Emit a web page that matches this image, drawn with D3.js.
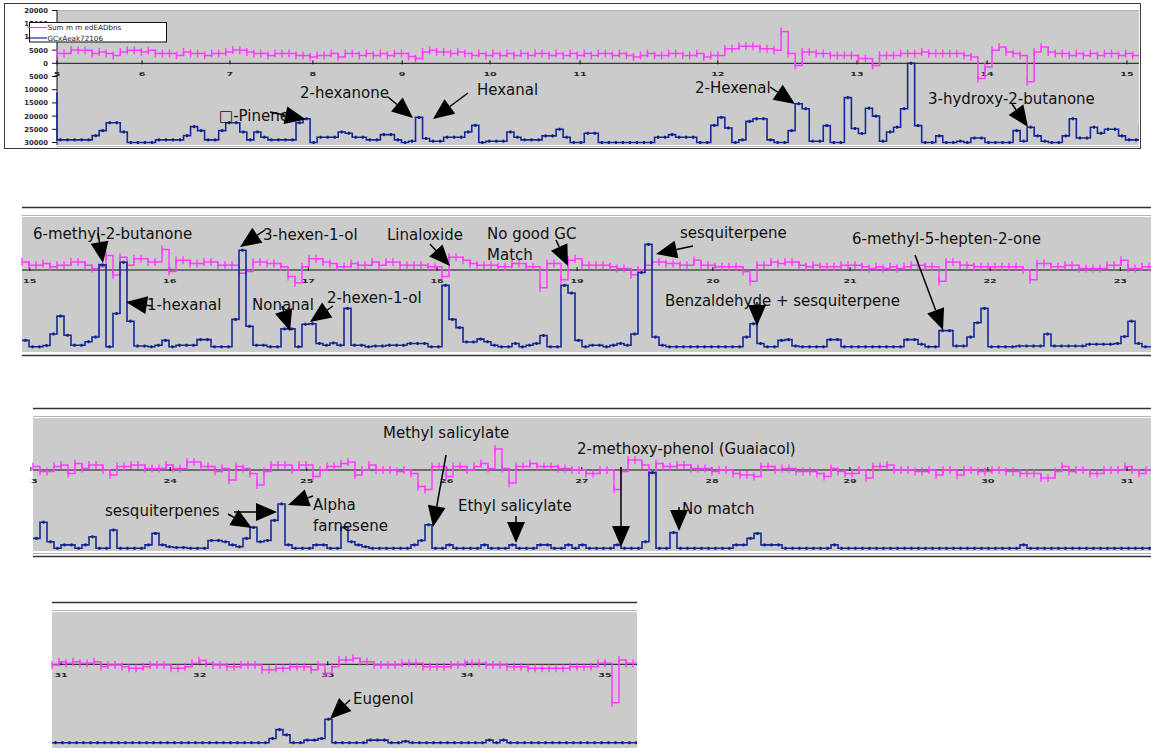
<!DOCTYPE html>
<html><head><meta charset="utf-8">
<script src="https://cdn.jsdelivr.net/npm/d3@7/dist/d3.min.js"></script>
<style>
html,body{margin:0;padding:0;background:#fff;}
svg{display:block;}
</style></head><body>
<svg id="chart" width="1151" height="748"></svg>
<script>
// ---- Data: EAD response (thousands) and GC signal (thousands above baseline), one value per sample ----
const p1Ticks = [5,6,7,8,9,10,11,12,13,14,15];
const p1TickIdx = [0,12.1,24.6,36.4,49.1,61.6,74.4,94,113.8,132.3,152.2];
const p1Ead = [3.7,3.7,5,4.9,4.9,3.7,4.3,3.7,3,4.3,
 4.9,4.9,4.3,4.9,3.7,3.7,3.7,3,4.3,3.7,
 3.7,3,3.7,3.7,4.3,5,4.9,4.3,3.7,3.7,
 3,3.7,3.7,3.7,3,3,2.4,3,3,3.7,
 2.4,3.7,3.7,3,3.7,3,3.7,3,3.7,3.7,
 2.6,1.8,4.3,4.9,4.3,4.3,3.7,4.3,3.7,3,
 3.7,3,3.7,3,3.7,3,3.7,3,3.7,3.7,
 3,3.7,3,3.7,3,3.7,3,3.7,3.7,3,
 3.7,3,2.4,3,3.7,3,3,3.7,3.7,3,
 3,3.7,2.4,3,3,5.5,5.5,6.5,6.5,6.5,
 5.5,5.5,4.9,12,3.7,-0.8,4.3,4.3,3.7,3.7,
 3,3,3,3,1.8,1.8,-0.8,3,3,3,
 3.7,3.7,3.7,4.3,3.7,3.7,3.7,3.7,3.7,3,
 2.4,-5.8,-1.4,4.9,6.2,4.3,3.7,3,-7,4.3,
 6.2,4.3,3.7,3.7,3,3.7,3,3.7,3,3.7,
 3.7,3,3.7,3,3,3.7];
// first GC value is the sample just before the left edge of the strip
const p1Gc = [18.5,1,1,1,1,1,2.6,4.5,7.5,7.5,4,
 0,0,0,0,1,1,1,1,2.6,6,
 4.5,1,1,4.5,7.5,7.5,4,1,4,2,
 1,1,1,1,7.5,9,0,2,2,2,
 4,3.5,2,2,1,1,3,3,1,0,
 0.5,9.5,1.5,0.5,0.5,2,2,2,4,6.5,
 0,0.5,0.5,0.5,4,2,1,1,1,2.5,
 2.5,5,2,0,0,3.5,3.5,0,0,0,
 0,0,0,0,0,2,2,3,2,2,
 2,0,0,6.5,9.5,5.5,0,1,8,9,
 9,1,0,0,4.5,14.7,12.8,0.5,0.5,6.4,
 0,0,17,5.3,3.4,13,10,0.5,4,5.8,
 12.8,30,6.4,0,0,2.5,0,0,0.5,0,
 1.7,1.7,0,0,0,0,4.5,0.5,5.8,2.5,
 0.5,0,0,2.5,9,1.7,1.7,5.8,3.5,5,
 5,2.5,1,1,6.4,17];

const p2Ticks = [15,16,17,18,19,20,21,22,23];
const p2TickIdx = [1.1,21.1,40.9,59.3,79.3,98.7,118.3,138.3,156.9];
const p2Ead = [3.1,1.9,1.9,2.5,1.3,1.9,1.9,3.1,3.1,1.9,
 0.6,1.3,5.7,-2,5,1.9,4.4,4.4,3.1,3.1,
 8,-0.6,3.8,3.8,2.5,2.5,3.1,3.1,1.9,1.9,
 1.9,-1.3,-0.6,3.1,3.1,2.5,2.5,1.3,-2.5,-5,
 1.3,4.4,4.4,3.1,2.5,1.3,1.3,2.5,1.9,1.9,
 3.1,1.9,3.1,3.1,1.9,1.9,1.9,1.9,1.3,1.3,
 -2.5,5,5,3.8,2.5,1.9,1.9,1.9,1.3,1.3,
 2.5,2.5,1.3,1.3,-6.9,2.5,2.5,-3.8,3.8,4.4,
 1.9,1.9,1.9,1.9,1.3,0.6,0.6,-1.9,0,1.9,
 3.1,3.1,2.5,2.5,1.9,1.9,3.8,1.9,1.9,1.3,
 1.3,1.3,1.3,-0.6,-4.4,1.9,1.9,3.1,2.5,3.1,
 3.1,1.9,1.3,1.9,1.3,1.3,1.3,1.9,1.9,1.9,
 1.3,0.6,1.3,0.6,1.3,0.6,1.3,1.9,1.9,1.3,
 1.3,-4.4,3.1,3.1,1.9,1.9,1.3,1.3,1.3,1.3,
 1.3,1.3,1.3,0,-3.8,2.5,2.5,1.3,1.3,1.9,
 1.9,0.6,0.6,0.6,0.6,1.9,1.9,3.8,0.6,0.6,
 1.3,1.3];
const p2Gc = [2.5,0,0,0.5,5,12,4.5,0.6,0.6,2,
 3.8,32,0,13,33,10,0.3,0.3,0,0.6,
 2.5,0,0.6,0.6,0.6,2.8,2.8,0,0,0,
 10.7,37.7,8,0.6,0.6,0,0,7,7,0,
 8.8,9,1.3,0.6,1.5,0.6,15,0.6,0.6,0,
 0.3,0.3,0.6,0.6,0.6,1.3,1.3,1.3,0,0,
 24,10.7,7.5,1.9,1.9,3,2,0.6,0,0,
 1.3,0,0.6,1.3,4.4,0,0,24,21,2.5,
 0,0.6,0.6,0,0.6,1.3,0.6,5,29,40,
 3.8,0.6,0,0,0,0,0,0,0,0,
 0,0,0,3.8,9,1.3,0,0,2.5,2.8,
 0.3,0,0,0,0,2.8,2.8,0,0,0,
 0,0,0,0,0,0,2.8,2.8,1,0,
 0,6.3,6.3,0.3,0.3,3.8,9.4,15,0,0,
 0,0,0.3,0.3,0.3,0.3,5,0.3,0.3,0.3,
 0.3,0.3,1,1,1,1,1.3,4,10,1.3,
 0,0];

const p3Ticks = [23,24,25,26,27,28,29,30,31];
const p3TickIdx = [-0.3,19.6,39.1,59.1,78.4,97,116.7,136.4,156.3];
const p3Ead = [1.3,-0.6,-0.6,1.3,1.9,-1.3,2.5,0.6,1.9,1.9,
 0,-1.9,1.3,1.3,1.9,1.9,0.6,0.6,0.6,1.9,
 0.6,0.6,3.1,3.1,1.3,1.3,-0.6,0.6,-3.8,1.3,
 0.6,-1.3,-5.7,-0.6,1.9,1.9,1.9,0,1.9,1.9,
 -2.5,0,1.3,1.3,2.5,3.1,-1.9,0,1.9,0,
 0,0,-0.6,0,-1.3,-6.3,-7.5,1.3,1.3,-2.5,
 1.3,1.3,0,1.3,2.5,0.6,8,0.6,-5,1.3,
 1.3,2.5,1.3,1.3,1.3,0.6,0.6,0,0,-1.3,
 -1.3,0,0,-7.5,-0.6,3.8,3.8,1.9,-1.3,2.5,
 1.3,1.3,1.9,1.9,0.6,0.6,0.6,-0.6,0,0,
 -1.3,-1.9,-1.9,-2.5,1.3,1.3,0,0.6,0.6,-0.6,
 -0.6,-0.6,-1.3,-2.5,0.6,-0.6,-1.3,-1.3,0,-3.1,
 1.3,1.3,1.9,0,0,0,-0.6,-0.6,0,-1.9,
 0,0,-1.9,0,0,-0.6,-0.6,0,0,-0.6,
 -0.6,-1.3,-1.3,-1.3,-3.1,-3.1,-0.6,1.3,-0.6,0,
 0,-1.3,-1.3,0,0,0,1.3,0,-1.3,0];
const p3Gc = [3.8,10,2.5,0,1.3,1.3,0,1.3,4.4,0,
 0,7,0,0,0,0,1.3,5.7,1.3,0.6,
 0.3,0.3,0,0,0,3,3,2.5,1.3,0.6,
 3.8,8,2.5,3,10.7,17,1.3,0,0,0,
 1.3,1.3,0,0,8,2.5,1.3,0.6,0,0,
 0,0,0,0,1.3,3,9,0,0,1.3,
 0,0,0,0,1.3,0,0,0,1.3,0,
 0,0,1.3,1.3,0,0,1.3,0,1.3,0,
 0,0,0,1.3,0,0,0,2.5,29,0,
 0,6,0,0,0,0,0,0,0,0,
 1.3,1.3,3.8,5.7,1.3,1.3,1.3,0,0,0,
 0,0,0,0,1.3,0,0,0,0,0,
 0,0,0,0,0,0,0,0,0,0,
 0,0,0,0,0,0,0,0,0,0,
 0,1.3,0,0,0,0,0,0,0,0,
 0,0,0,0,0,0,0,0,0,0];

const p4Ticks = [31,32,33,34,35];
const p4TickIdx = [1.3,21.1,39.4,59.3,79];
const p4Ead = [-0.3,1,0.4,1,0.4,0.4,1,-0.9,-0.3,-0.3,
 -0.9,-1.5,-1.5,-0.9,-0.3,-0.3,-0.3,-1.5,-1.5,-0.9,
 0.4,1.5,0.4,-0.3,-0.3,-0.9,-0.9,-0.3,-0.3,-0.3,
 -2.1,-2.1,-1.5,-1.5,-0.9,-0.9,-0.9,-2.1,-0.3,-3.4,
 -0.9,1.6,1.6,2.3,1,1,-0.3,-0.3,-0.3,-0.3,
 0.4,0.4,0.4,-0.9,-0.9,-0.9,-0.9,-0.3,-0.3,0.4,
 0.4,0.4,-0.3,-0.3,-0.3,-0.9,-0.9,-0.9,-1.5,-1.5,
 -1.5,-1.5,-1.5,-1.5,-0.9,-0.9,-0.9,-0.9,0.4,0.4,
 -14.7,1.6,0.4,0.4];
const p4Gc = [0,0,0,0,0,0,0,0,0,0,
 0,0,0,0,0,0,0,0,0,0,
 0,0,0,0,0,0,0,0,0,0,
 0,1.6,5,3,0,0,1,1,1.6,9,
 0,0,0,0,0,1,1,1,0,0,
 0.5,0,0,0,0,0,0,0,0,0,
 0,0,1,0,1,0,0,0,0,0,
 0,0,0,0,0,0,0,0,0,0,
 0,0,0,0];

const yAxisValues = [20,15,10,5,0,-5,-10,-15,-20,-25,-30];
const legendNames = ["Sum m m edEADbns", "GCxAeak72106"];

// ---- Layout of the four strips ----
const strips = [
  { ead:p1Ead, gc:p1Gc, gcFirst:-1, ticks:p1Ticks, tickIdx:p1TickIdx,
    x0:57, x1:1139, y0:11, y1:145, zeroY:63.3, baseY:142.5, dx:7.03, yAxis:true,
    rules:[], box:[4.5,3.5,1136,145] },
  { ead:p2Ead, gc:p2Gc, gcFirst:0, ticks:p2Ticks, tickIdx:p2TickIdx,
    x0:22, x1:1151, y0:217, y1:352, zeroY:270, baseY:346.8, dx:7,
    rules:[[207.5,'#333'],[215.5,'#b4b4b4'],[355.5,'#333']] },
  { ead:p3Ead, gc:p3Gc, gcFirst:0, ticks:p3Ticks, tickIdx:p3TickIdx,
    x0:33, x1:1151, y0:418, y1:551, zeroY:470, baseY:548.3, dx:7,
    rules:[[408.5,'#333'],[416.5,'#b4b4b4'],[553.5,'#b4b4b4'],[556.5,'#333']] },
  { ead:p4Ead, gc:p4Gc, gcFirst:0, ticks:p4Ticks, tickIdx:p4TickIdx,
    x0:52, x1:637, y0:612, y1:748, zeroY:664.3, baseY:742.7, dx:7,
    rules:[[602.5,'#333'],[610.5,'#b4b4b4']] }
];

// ---- Compound labels and arrows ----
const notes = [
  { t:["\u25A1-Pinene"], x:219, y:121, arrows:[[[270,112],[306,119.5]]] },
  { t:["2-hexanone"], x:300, y:98, arrows:[[[388,97],[413,118]]] },
  { t:["Hexanal"], x:477, y:95, arrows:[[[468,93],[433,119]]] },
  { t:["2-Hexenal"], x:695, y:93, arrows:[[[770,87],[795,104]]] },
  { t:["3-hydroxy-2-butanone"], x:928, y:104, arrows:[[[1012,104],[1028,127]]] },
  { t:["6-methyl-2-butanone"], x:33, y:239, arrows:[[[98,233],[103,263]]] },
  { t:["3-hexen-1-ol"], x:263, y:240, arrows:[[[265,230],[240,247]]] },
  { t:["1-hexanal"], x:147, y:310, arrows:[[[152,306],[126,302]]] },
  { t:["Nonanal"], x:252, y:310, arrows:[[[282,306],[290,331]]] },
  { t:["2-hexen-1-ol"], x:327, y:303, arrows:[[[333,306],[310,322]]] },
  { t:["Linaloxide"], x:387, y:240, arrows:[[[430,244],[450,266]]] },
  { t:["No good GC","Match"], x:487, y:239, arrows:[[[556,240],[568,266]]] },
  { t:["sesquiterpene"], x:680, y:238, arrows:[[[693,246],[656,254]]] },
  { t:["Benzaldehyde + sesquiterpene"], x:665, y:306, arrows:[[[757,302],[757,326]]] },
  { t:["6-methyl-5-hepten-2-one"], x:852, y:244, arrows:[[[915,255],[943,330]]] },
  { t:["Methyl salicylate"], x:383, y:438, arrows:[[[446,455],[433,527]]] },
  { t:["sesquiterpenes"], x:105, y:516, arrows:[[[234,512],[277,512]],[[228,514],[252,528]]] },
  { t:["Alpha","farnesene"], x:313, y:510, arrows:[[[313,496],[288,505]]] },
  { t:["Ethyl salicylate"], x:458, y:511, arrows:[[[516,516],[516,543]]] },
  { t:["2-methoxy-phenol (Guaiacol)"], x:577, y:454, arrows:[[[621,467],[621,547]]] },
  { t:["No match"], x:682, y:514, arrows:[[[679,507],[679,531]]] },
  { t:["Eugenol"], x:353, y:704, arrows:[[[350,700],[330,719]]] }
];

const EAD_COLOR = '#ff3cff';
const GC_COLOR = '#13299a';
const BG = '#cbcbcb';

const svg = d3.select('#chart');
const defs = svg.append('defs');

strips.forEach((s, i) => {
  const g = svg.append('g');
  const x = d3.scaleLinear().domain([0, 1]).range([s.x0, s.x0 + s.dx]);
  const y = d3.scaleLinear().domain([-30, 0]).range([s.baseY, s.zeroY]);

  // frame and plot background
  if (s.box) {
    g.append('rect').attr('x', s.box[0]).attr('y', s.box[1]).attr('width', s.box[2]).attr('height', s.box[3])
      .attr('fill', '#fff').attr('stroke', '#3a3a3a').attr('stroke-width', 1);
  }
  g.append('rect').attr('x', s.x0).attr('y', s.y0).attr('width', s.x1 - s.x0).attr('height', s.y1 - s.y0)
    .attr('fill', BG);
  if (s.box) {
    g.append('line').attr('x1', s.x0).attr('x2', s.x1).attr('y1', s.y0 - 0.5).attr('y2', s.y0 - 0.5)
      .attr('stroke', '#b4b4b4');
    g.append('line').attr('x1', s.x0).attr('x2', s.x1).attr('y1', s.y1 + 1.5).attr('y2', s.y1 + 1.5)
      .attr('stroke', '#b4b4b4');
  }
  s.rules.forEach(([ry, col]) => {
    g.append('line').attr('x1', s.x0).attr('x2', s.x1).attr('y1', ry).attr('y2', ry)
      .attr('stroke', col).attr('stroke-width', col === '#333' ? 1.3 : 1);
  });

  const clipId = 'clip' + i;
  defs.append('clipPath').attr('id', clipId).append('rect')
    .attr('x', s.x0 - 1).attr('y', s.y0 - 2).attr('width', s.x1 - s.x0 + 1).attr('height', s.y1 - s.y0 + 2);
  const labClip = 'lclip' + i;
  defs.append('clipPath').attr('id', labClip).append('rect')
    .attr('x', s.x0 - 3).attr('y', s.y0).attr('width', s.x1 - s.x0 + 3).attr('height', s.y1 - s.y0);

  // zero line with minute ticks
  g.append('line').attr('x1', s.x0).attr('x2', s.x1).attr('y1', y(0)).attr('y2', y(0))
    .attr('stroke', '#111').attr('stroke-width', 1);
  const tg = g.append('g').attr('clip-path', `url(#${labClip})`);
  s.tickIdx.forEach((ti, j) => {
    const tx = x(ti);
    tg.append('line').attr('x1', tx).attr('x2', tx).attr('y1', y(0) - 3).attr('y2', y(0) + 1)
      .attr('stroke', '#111');
    tg.append('text').attr('transform', `translate(${tx},${y(0) + 12.5}) scale(1.6,1)`)
      .attr('text-anchor', 'middle').attr('font-family', 'DejaVu Sans, sans-serif')
      .attr('font-size', 6).attr('font-weight', 'bold').attr('fill', '#2a2a2a')
      .text(s.ticks[j]);
  });

  // left value axis on the first strip
  if (s.yAxis) {
    const ax = g.append('g');
    ax.append('line').attr('x1', s.x0).attr('x2', s.x0).attr('y1', s.y0 - 1).attr('y2', s.y1)
      .attr('stroke', '#111');
    yAxisValues.forEach(v => {
      ax.append('line').attr('x1', s.x0 - 5).attr('x2', s.x0).attr('y1', y(v)).attr('y2', y(v))
        .attr('stroke', '#111');
      ax.append('text').attr('x', s.x0 - 9).attr('y', y(v) + 2.5).attr('text-anchor', 'end')
        .attr('font-family', 'DejaVu Sans, sans-serif').attr('font-size', 6.8).attr('font-weight', 'bold')
        .attr('fill', '#2a2a2a').text(Math.abs(v * 1000));
    });
  }

  // traces (step lines, value held until the next sample)
  const sg = g.append('g').attr('clip-path', `url(#${clipId})`);
  const line = d3.line().curve(d3.curveStepAfter);
  const stepPts = (arr, first, off) => {
    const pts = arr.map((v, k) => [x(k + first), y(v + off)]);
    pts.push([x(arr.length + first), y(arr[arr.length - 1] + off)]);
    return pts;
  };

  sg.append('path').attr('d', line(stepPts(s.ead, 0, 0))).attr('fill', 'none')
    .attr('stroke', EAD_COLOR).attr('stroke-width', 1.5);
  sg.selectAll('line.em').data(s.ead).join('line').attr('class', 'em')
    .attr('x1', (d, k) => x(k)).attr('x2', (d, k) => x(k))
    .attr('y1', d => y(d) - 4).attr('y2', d => y(d) + 4)
    .attr('stroke', EAD_COLOR).attr('stroke-width', 1.4);

  sg.append('path').attr('d', line(stepPts(s.gc, s.gcFirst, -30))).attr('fill', 'none')
    .attr('stroke', GC_COLOR).attr('stroke-width', 1.6);
  sg.selectAll('rect.gm').data(s.gc).join('rect').attr('class', 'gm')
    .attr('x', (d, k) => x(k + s.gcFirst + 0.5) - 1).attr('y', d => y(d - 30) - 1.5)
    .attr('width', 2).attr('height', 3).attr('fill', '#0a1c80');
});

// legend of the first strip
const lg = svg.append('g');
lg.append('rect').attr('x', 29.5).attr('y', 22.5).attr('width', 137).attr('height', 19.5)
  .attr('fill', '#fff').attr('stroke', '#111');
[[EAD_COLOR, 27.5], [GC_COLOR, 38]].forEach(([c, ly], j) => {
  lg.append('line').attr('x1', 27).attr('x2', 47).attr('y1', ly).attr('y2', ly).attr('stroke', c).attr('stroke-width', 1.2);
  lg.append('text').attr('x', 47.5).attr('y', ly + 2.5).attr('font-family', 'DejaVu Sans, sans-serif')
    .attr('font-size', 7.2).attr('fill', '#222').text(legendNames[j]);
});

// compound annotations
const ag = svg.append('g');
notes.forEach(nt => {
  nt.t.forEach((line, j) => {
    ag.append('text').attr('x', nt.x).attr('y', nt.y + j * 20.5)
      .attr('font-family', 'DejaVu Sans, sans-serif').attr('font-size', 15).attr('fill', '#111')
      .text(line);
  });
});
notes.forEach(nt => {
  nt.arrows.forEach(([from, to]) => {
    const [x1, y1] = from, [x2, y2] = to;
    const len = Math.hypot(x2 - x1, y2 - y1);
    const ux = (x2 - x1) / len, uy = (y2 - y1) / len;
    const L = Math.min(21, len), W = 9;
    const bx = x2 - ux * L, by = y2 - uy * L;
    if (len > L + 0.5) {
      ag.append('line').attr('x1', x1).attr('y1', y1).attr('x2', bx).attr('y2', by)
        .attr('stroke', '#000').attr('stroke-width', 1.5);
    }
    ag.append('path')
      .attr('d', `M${x2},${y2}L${bx - uy * W},${by + ux * W}L${bx + uy * W},${by - ux * W}Z`)
      .attr('fill', '#000');
  });
});
</script>
</body></html>
